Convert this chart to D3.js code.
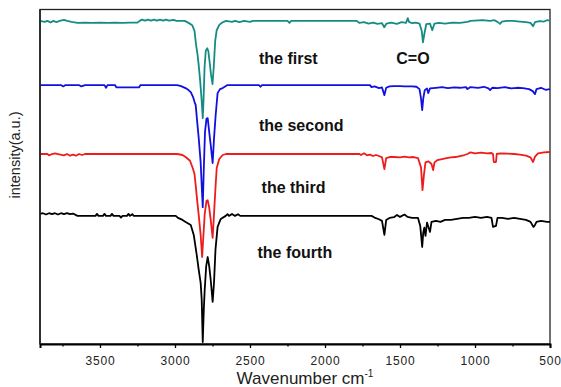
<!DOCTYPE html>
<html>
<head>
<meta charset="utf-8">
<script src="https://cdn.jsdelivr.net/npm/d3@7"></script>
<style>
  html, body { margin: 0; padding: 0; background: #fff; }
  svg { display: block; }
</style>
</head>
<body>
<svg id="chart" width="561" height="387"></svg>
<script>
// ---- data (wavenumber cm^-1, relative intensity a.u.) ----
const seriesNames = ["the first", "the second", "the third", "the fourth"];
const seriesColors = ["#148c84", "#1010e0", "#ee1c1c", "#000000"];
const seriesOffsets = [96.6, 77.4, 56.8, 38.3];

const first = [[3900,0],[3870,-0.3],[3850,0],[3830,-0.5],[3810,0],[3790,-0.4],[3770,0],[3740,0.3],[3720,0],[3690,-0.3],[3650,-0.6],[3600,-0.5],[3550,-0.6],[3500,-0.5],[3450,-0.6],[3400,-0.5],[3350,-0.6],[3300,-0.5],[3250,-0.5],[3235,0],[3220,0.4],[3200,0.1],[3180,0.4],[3160,0.1],[3140,0.4],[3120,0.1],[3100,0.4],[3080,0.1],[3060,0.4],[3040,0.1],[3010,0.3],[2990,0],[2935,0],[2910,-0.6],[2885,-1.3],[2870,-3],[2860,-7],[2850,-10],[2842,-13.2],[2832,-18],[2822,-24],[2815,-29.1],[2810,-24],[2803,-14],[2795,-9],[2785,-8.2],[2778,-9],[2770,-12],[2760,-16],[2750,-18.9],[2742,-14],[2732,-6],[2722,-2.8],[2705,-1.2],[2685,-0.5],[2660,0],[2620,-0.3],[2600,0],[2570,-0.4],[2540,0],[2500,-0.3],[2480,0],[2250,0],[2237,-0.6],[2225,0],[1790,0],[1770,-0.6],[1740,-0.4],[1710,-0.8],[1680,-0.5],[1650,-0.9],[1620,-0.7],[1605,-1.9],[1590,-0.8],[1560,-0.5],[1520,-0.9],[1490,-0.4],[1460,-0.6],[1448,0.8],[1440,-0.3],[1420,-0.7],[1395,-0.5],[1370,-0.8],[1355,-3],[1347,-6.4],[1338,-4],[1325,-1],[1300,-0.8],[1285,-2.8],[1270,-0.8],[1240,-0.6],[1200,-0.8],[1150,-0.5],[1100,-0.6],[1050,-0.3],[1030,0],[950,0.2],[900,0],[870,0.2],[850,-0.3],[833,-0.9],[820,-0.2],[790,0],[750,0],[700,-0.2],[660,-0.4],[630,-0.6],[613,-1.6],[600,-0.4],[570,-0.1],[540,-0.2],[520,0.2],[500,0.1]];

const second = [[3900,0],[3760,0],[3745,-0.4],[3730,0],[3640,0],[3625,-0.4],[3600,0],[3470,0],[3460,-0.8],[3450,0],[3400,0],[3390,-0.7],[3240,-0.7],[3230,0],[2985,0],[2960,-0.3],[2930,-0.9],[2910,-1.5],[2895,-2.1],[2880,-3.5],[2870,-5],[2862,-6],[2852,-11],[2842,-15.8],[2829,-23],[2822,-30],[2815,-36.5],[2808,-25],[2800,-14],[2790,-10],[2782,-9.9],[2772,-14],[2762,-17.9],[2749,-23.3],[2740,-16],[2729,-9],[2716,-2.4],[2700,-1.2],[2682,-0.9],[2650,0],[2440,0],[2430,-0.5],[2420,0],[1700,0],[1690,-0.6],[1670,-0.4],[1640,-0.9],[1620,-0.7],[1604,-3],[1592,-0.8],[1570,-0.4],[1540,-0.3],[1500,-0.3],[1470,-0.4],[1420,-0.4],[1390,-0.5],[1370,-1.2],[1360,-4],[1352,-7.5],[1345,-4],[1335,-1.5],[1320,-1],[1312,-2.4],[1300,-1],[1260,-0.8],[1220,-0.6],[1180,-0.9],[1140,-0.7],[1100,-0.8],[1060,-0.6],[1050,-1.2],[1030,-0.6],[980,-0.8],[940,-0.5],[910,-1],[899,-1.5],[885,-0.8],[850,-0.9],[800,-0.6],[760,-1],[720,-0.8],[680,-0.9],[640,-1.2],[615,-1.8],[600,-2.7],[590,-1.2],[560,-0.8],[530,-1.4],[500,-1.2]];

const third = [[3900,0],[3850,0],[3840,-0.4],[3820,0],[3800,0.2],[3780,0],[3740,-0.4],[3720,0],[3700,-0.5],[3680,-0.2],[3660,-0.5],[3640,0],[3620,-0.3],[3600,0],[2985,0],[2950,-0.3],[2929,-0.9],[2900,-2],[2882,-4.2],[2870,-6],[2862,-9.3],[2852,-14],[2842,-18.2],[2829,-24.2],[2819,-30.8],[2810,-24],[2802,-18],[2790,-14],[2782,-13.8],[2772,-16],[2762,-19.7],[2749,-25.1],[2740,-18],[2730,-10],[2722,-4.2],[2705,-1.5],[2682,-0.3],[2660,0],[1770,0],[1760,-0.3],[1740,0.2],[1720,-0.4],[1700,-0.2],[1680,-0.6],[1660,-0.3],[1640,-0.6],[1620,-1],[1604,-4.5],[1592,-1.2],[1570,-0.9],[1540,-0.9],[1500,-1],[1470,-0.8],[1440,-1],[1410,-0.9],[1380,-1.2],[1360,-4],[1350,-10.8],[1340,-6],[1330,-2.5],[1310,-2.2],[1290,-3],[1279,-4.8],[1270,-2.5],[1250,-1.8],[1220,-1.5],[1190,-1.2],[1160,-1],[1130,-0.9],[1100,-0.6],[1070,-0.3],[1050,0],[1030,0.5],[1000,0.2],[960,0.4],[920,0.2],[890,0.3],[880,0],[875,-2.4],[860,-2.4],[855,0],[830,0.2],[780,0.1],[740,0],[700,-0.2],[660,-0.5],[630,-1],[613,-2.4],[600,-0.8],[580,0.2],[540,0.5],[500,0.6]];

const fourth = [[3900,0.6],[3880,0.8],[3860,0.4],[3840,0.8],[3820,0.5],[3800,0.8],[3780,0.4],[3760,0.8],[3740,0.5],[3720,0.8],[3700,0.5],[3680,0.7],[3650,0],[3530,0],[3520,0.6],[3510,0],[3480,0],[3470,0.6],[3460,0],[3430,0],[3420,0.6],[3410,0],[3370,0],[3360,-0.5],[3350,0],[3320,0],[3310,0.6],[3300,0],[3285,0.5],[3275,0],[2995,0],[2980,-0.6],[2950,-1.2],[2929,-1.8],[2895,-2.7],[2875,-5.7],[2855,-11.7],[2842,-16.1],[2829,-20],[2822,-25],[2815,-37.7],[2808,-28],[2802,-22.1],[2792,-15],[2782,-12.3],[2772,-15],[2762,-19.1],[2749,-25.7],[2740,-20],[2730,-10],[2716,-3.3],[2695,-0.9],[2662,0],[2650,0.5],[2640,0],[2620,0.6],[2600,0],[2580,0.5],[2565,0],[1690,0],[1670,-0.5],[1640,-1],[1620,-1.5],[1604,-5.7],[1592,-1.2],[1570,-0.6],[1540,-0.4],[1520,0.3],[1500,-0.3],[1470,0.4],[1450,-0.3],[1420,-0.6],[1380,-0.6],[1365,-3],[1352,-9.3],[1345,-5],[1338,-3.5],[1330,-6],[1320,-2],[1300,-4.8],[1290,-1.8],[1260,-1.5],[1230,-1.8],[1200,-1.2],[1160,-1.2],[1120,-0.9],[1080,-0.6],[1040,-0.6],[1000,-0.3],[960,-0.6],[920,-0.3],[890,-0.6],[880,-3.3],[860,-3],[850,-0.6],[820,-0.6],[780,-0.9],[740,-0.6],[700,-0.9],[660,-1.2],[630,-1.8],[610,-3.3],[600,-2.7],[590,-1.8],[560,-1.5],[520,-1.8],[500,-1.8]];

const seriesData = [first, second, third, fourth];

const majorTicks = [3500, 3000, 2500, 2000, 1500, 1000, 500];
const minorTicks = [3750, 3250, 2750, 2250, 1750, 1250, 750];

// annotations: text, wavenumber, a.u. level
const labelNames = ["the first", "C=O", "the second", "the third", "the fourth"];
const labelWn = [2440, 1525, 2440, 2423, 2450];
const labelLevel = [83.7, 83.7, 63.7, 45.1, 25.7];

const xTitle = "Wavenumber cm";
const xTitleSup = "-1";
const yTitle = "intensity(a.u.)";

// ---- drawing ----
(function () {
  const svg = d3.select("#chart");
  const mL = 40, mR = 550, mT = 9.5, mB = 344;

  const x = d3.scaleLinear().domain([3900, 500]).range([mL, mR]);
  const y = d3.scaleLinear().domain([0, 100]).range([mB, mT]);

  // frame
  svg.append("rect")
    .attr("x", mL).attr("y", mT)
    .attr("width", mR - mL).attr("height", mB - mT)
    .attr("fill", "none").attr("stroke", "#222").attr("stroke-width", 1.3);

  // series (bottom to top so upper traces overlay)
  const line = d3.line().x(d => x(d[0])).y(d => y(d[1]));
  for (let i = seriesData.length - 1; i >= 0; i--) {
    const off = seriesOffsets[i];
    svg.append("path")
      .datum(seriesData[i].map(p => [p[0], p[1] + off]))
      .attr("d", line)
      .attr("fill", "none")
      .attr("stroke", seriesColors[i])
      .attr("stroke-width", 1.8)
      .attr("stroke-linejoin", "round");
  }

  // x axis major
  const gx = svg.append("g").attr("transform", `translate(0,${mB})`)
    .call(d3.axisBottom(x).tickValues(majorTicks).tickSize(4).tickPadding(8).tickFormat(d3.format("d")));
  gx.select(".domain").attr("stroke", "#000").attr("stroke-width", 2);
  gx.selectAll(".tick line").attr("stroke", "#000").attr("stroke-width", 1.3);
  gx.selectAll(".tick text")
    .attr("font-family", "Liberation Sans, Arial, sans-serif")
    .attr("font-size", 12).attr("letter-spacing", "0.8px")
    .attr("fill", "#222");

  // x axis minor
  const gm = svg.append("g").attr("transform", `translate(0,${mB})`)
    .call(d3.axisBottom(x).tickValues(minorTicks).tickSize(2.5).tickFormat(""));
  gm.select(".domain").remove();
  gm.selectAll(".tick line").attr("stroke", "#000").attr("stroke-width", 1.3);

  // left axis line
  svg.append("line").attr("x1", mL).attr("x2", mL).attr("y1", mT).attr("y2", mB)
    .attr("stroke", "#222").attr("stroke-width", 1.6);

  // annotations
  labelNames.forEach((t, i) => {
    svg.append("text")
      .attr("x", x(labelWn[i])).attr("y", y(labelLevel[i]))
      .attr("font-family", "Liberation Sans, Arial, sans-serif")
      .attr("font-weight", "bold").attr("font-size", 16)
      .attr("fill", "#111")
      .text(t);
  });

  // axis titles
  const xt = svg.append("text")
    .attr("x", (mL + mR) / 2 + 10).attr("y", 384)
    .attr("text-anchor", "middle")
    .attr("font-family", "Liberation Sans, Arial, sans-serif")
    .attr("font-size", 17).attr("fill", "#222");
  xt.append("tspan").text(xTitle);
  xt.append("tspan").attr("font-size", 10).attr("dy", -7).text(xTitleSup);

  svg.append("text")
    .attr("transform", "translate(20,155) rotate(-90)")
    .attr("text-anchor", "middle")
    .attr("font-family", "Liberation Sans, Arial, sans-serif")
    .attr("font-size", 14.5).attr("fill", "#222")
    .text(yTitle);
})();
</script>
</body>
</html>
